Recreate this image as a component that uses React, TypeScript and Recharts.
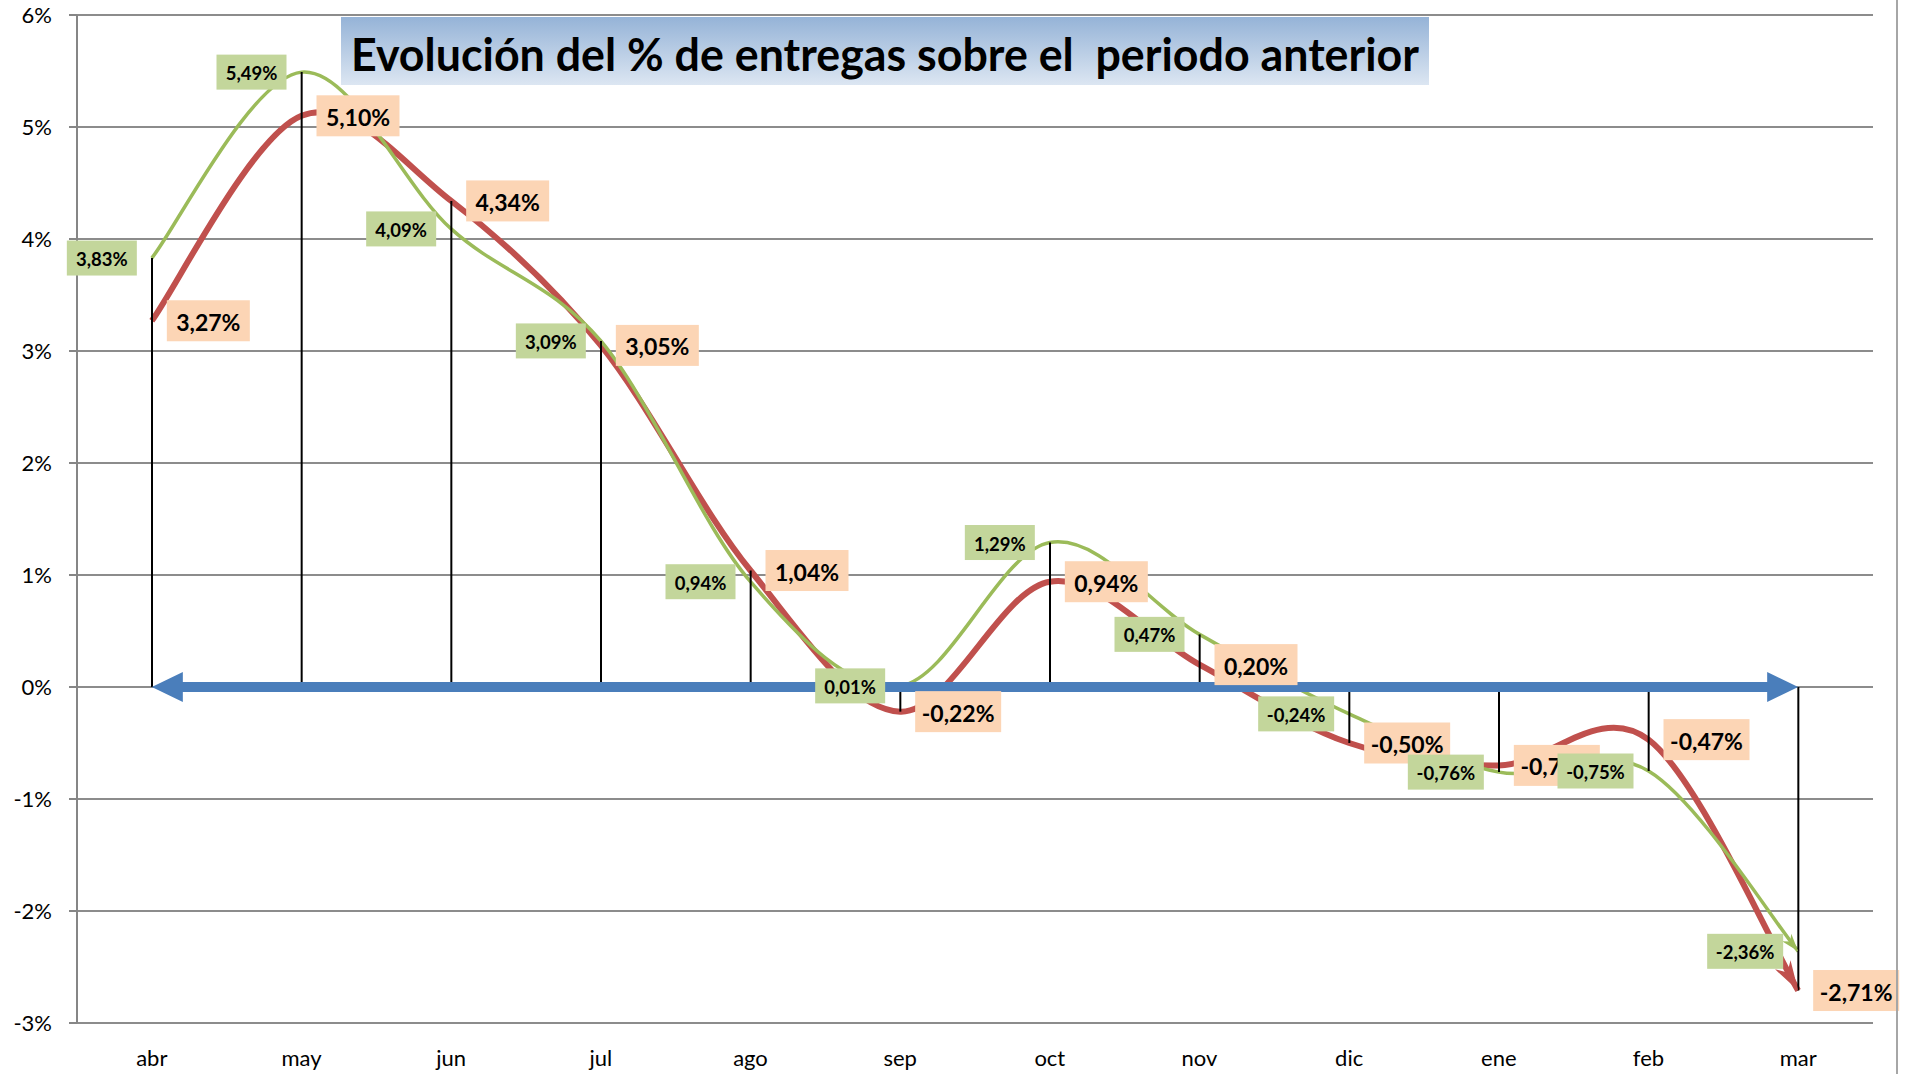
import {
  ComposedChart,
  Line,
  Bar,
  XAxis,
  YAxis,
  CartesianGrid,
  LabelList,
} from "recharts";

const months = ["abr", "may", "jun", "jul", "ago", "sep", "oct", "nov", "dic", "ene", "feb", "mar"];
const redValues = [3.27, 5.1, 4.34, 3.05, 1.04, -0.22, 0.94, 0.2, -0.5, -0.7, -0.47, -2.71];
const greenValues = [3.83, 5.49, 4.09, 3.09, 0.94, 0.01, 1.29, 0.47, -0.24, -0.76, -0.75, -2.36];
const yTicks = [-3, -2, -1, 0, 1, 2, 3, 4, 5, 6];

const data = months.map((m, i) => ({
  m,
  red: redValues[i],
  green: greenValues[i],
  base: 0,
  range: [Math.min(0, redValues[i], greenValues[i]), Math.max(0, redValues[i], greenValues[i])],
}));

const FONT = "Lato, 'Open Sans', sans-serif";
const RED = "#C0504D";
const GREEN = "#9BBB59";
const BLUE = "#4A7EBB";

const fmt = (v: number) => v.toFixed(2).replace(".", ",") + "%";

// smoothing similar to Excel's smoothed line (catmull-rom style bezier)
function excelCurve(context: any) {
  let pts: number[][] = [];
  return {
    areaStart() {},
    areaEnd() {},
    lineStart() {
      pts = [];
    },
    point(x: number, y: number) {
      pts.push([+x, +y]);
    },
    lineEnd() {
      const n = pts.length;
      if (!n) return;
      context.moveTo(pts[0][0], pts[0][1]);
      for (let i = 0; i < n - 1; i++) {
        const p0 = pts[i - 1] || pts[i];
        const p1 = pts[i];
        const p2 = pts[i + 1];
        const p3 = pts[i + 2] || p2;
        context.bezierCurveTo(
          p1[0] + (p2[0] - p0[0]) / 6,
          p1[1] + (p2[1] - p0[1]) / 6,
          p2[0] - (p3[0] - p1[0]) / 6,
          p2[1] - (p3[1] - p1[1]) / 6,
          p2[0],
          p2[1]
        );
      }
    },
  };
}

const endArrow = (color: string, len: number, hw: number) => (props: any) => {
  const { index, points, cx, cy } = props;
  if (!points || index !== points.length - 1) return <g key={`e${index}`} />;
  const p = points[points.length - 2];
  const dx = cx - p.x;
  const dy = cy - p.y;
  const L = Math.hypot(dx, dy) || 1;
  const ux = dx / L;
  const uy = dy / L;
  const bx = cx - ux * len;
  const by = cy - uy * len;
  const d = `M${cx},${cy} L${bx - uy * hw},${by + ux * hw} L${cx - ux * len * 0.7},${cy - uy * len * 0.7} L${bx + uy * hw},${by - ux * hw} Z`;
  return <path key={`e${index}`} d={d} fill={color} />;
};

const blueArrow = (props: any) => {
  const { index, points } = props;
  if (!points || index !== points.length - 1) return <g key={`b${index}`} />;
  const a = points[0];
  const b = points[points.length - 1];
  const y = a.y;
  const hl = 31;
  const hw = 15;
  const t = 5;
  const d = `M${a.x},${y} L${a.x + hl},${y - hw} L${a.x + hl},${y - t} L${b.x - hl},${y - t} L${b.x - hl},${y - hw} L${b.x},${y} L${b.x - hl},${y + hw} L${b.x - hl},${y + t} L${a.x + hl},${y + t} L${a.x + hl},${y + hw} Z`;
  return <path key="arrow" d={d} fill={BLUE} />;
};

const redLabel = (props: any) => {
  const x = props.x ?? props.viewBox?.x;
  const y = props.y ?? props.viewBox?.y;
  const txt = fmt(Number(props.value));
  const w = txt.length > 5 ? 86 : 83;
  const h = 41;
  return (
    <g key={`rl${props.index}`}>
      <rect x={x + 15} y={y - h / 2} width={w} height={h} fill="#FCD5B5" />
      <text x={x + 15 + w / 2} y={y + 1} textAnchor="middle" dominantBaseline="central" fontFamily={FONT} fontWeight="bold" fontSize={23} fill="#000">
        {txt}
      </text>
    </g>
  );
};

const greenLabel = (props: any) => {
  const x = props.x ?? props.viewBox?.x;
  const y = props.y ?? props.viewBox?.y;
  const txt = fmt(Number(props.value));
  const w = txt.length > 5 ? 76 : 70;
  const h = 35;
  return (
    <g key={`gl${props.index}`}>
      <rect x={x - 15 - w} y={y - h / 2} width={w} height={h} fill="#C3D69B" />
      <text x={x - 15 - w / 2} y={y + 1} textAnchor="middle" dominantBaseline="central" fontFamily={FONT} fontWeight="bold" fontSize={18.5} fill="#000">
        {txt}
      </text>
    </g>
  );
};

export default function App() {
  return (
    <div style={{ position: "absolute", left: 0, top: 0, width: 1910, height: 1074, background: "#fff" }}>
      <ComposedChart width={1910} height={1074} data={data} margin={{ top: 15, right: 37, left: 0, bottom: 11 }}>
        <CartesianGrid vertical={false} stroke="#8C8C8C" strokeWidth={2} />
        <XAxis
          dataKey="m"
          axisLine={false}
          tickLine={false}
          tickMargin={21}
          height={40}
          tick={{ fill: "#000", fontSize: 22, fontFamily: FONT }}
        />
        <YAxis
          type="number"
          domain={[-3, 6]}
          ticks={yTicks}
          interval={0}
          tickFormatter={(v: number) => `${v}%`}
          width={77}
          tickSize={8}
          tickMargin={17}
          axisLine={{ stroke: "#868686", strokeWidth: 2 }}
          tickLine={{ stroke: "#868686", strokeWidth: 2 }}
          tick={{ fill: "#000", fontSize: 22, fontFamily: FONT }}
        />
        <Line
          dataKey="red"
          type={excelCurve as any}
          stroke={RED}
          strokeWidth={6}
          dot={endArrow(RED, 30, 9)}
          activeDot={false}
          isAnimationActive={false}
        />
        <Line
          dataKey="green"
          type={excelCurve as any}
          stroke={GREEN}
          strokeWidth={3.5}
          dot={endArrow(GREEN, 18, 6)}
          activeDot={false}
          isAnimationActive={false}
        />
        <Line dataKey="base" stroke="none" dot={blueArrow} activeDot={false} isAnimationActive={false} zIndex={450} />
        <Bar dataKey="range" barSize={2} fill="#000" isAnimationActive={false} zIndex={460} />
        <Line dataKey="red" stroke="none" dot={false} activeDot={false} isAnimationActive={false} zIndex={470}>
          <LabelList dataKey="red" content={redLabel} />
        </Line>
        <Line dataKey="green" stroke="none" dot={false} activeDot={false} isAnimationActive={false} zIndex={480}>
          <LabelList dataKey="green" content={greenLabel} />
        </Line>
      </ComposedChart>
      <div style={{ position: "absolute", left: 1896, top: 0, width: 2, height: 1074, background: "#A6A6A6" }} />
      <svg style={{ position: "absolute", left: 341, top: 17 }} width={1088} height={68}>
        <defs>
          <linearGradient id="tg" x1="0" y1="0" x2="0" y2="1">
            <stop offset="0" stopColor="#95B3D7" />
            <stop offset="1" stopColor="#DCE6F2" />
          </linearGradient>
        </defs>
        <rect x={0} y={0} width={1088} height={68} fill="url(#tg)" />
        <text
          x={10}
          y={54}
          fontFamily={FONT}
          fontWeight="bold"
          fontSize={46}
          fill="#000"
          textLength={1068}
          lengthAdjust="spacingAndGlyphs"
          style={{ whiteSpace: "pre" }}
        >
          Evolución del % de entregas sobre el  periodo anterior
        </text>
      </svg>
    </div>
  );
}
